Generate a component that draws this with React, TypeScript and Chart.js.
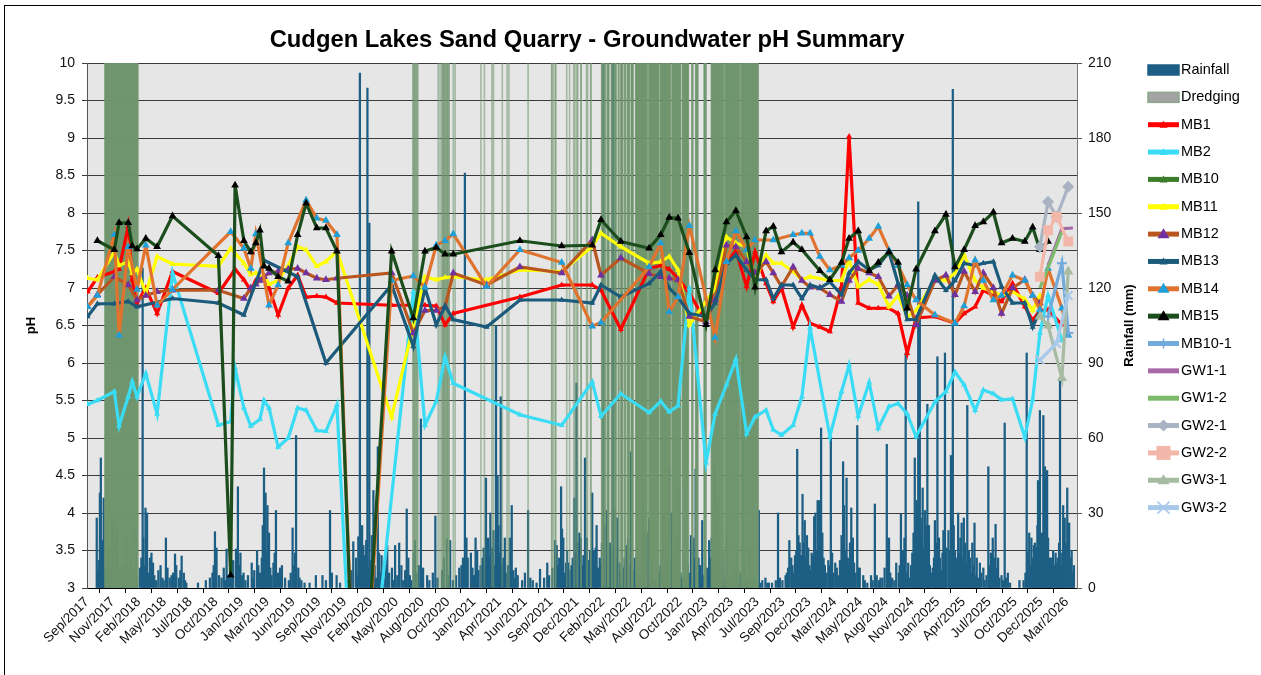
import { useEffect, useRef } from 'react';
import { Chart, registerables } from 'chart.js';
Chart.register(...registerables);

// ---------- DATA ----------
const chartTitle = 'Cudgen Lakes Sand Quarry - Groundwater pH Summary';
const xTickStart = '2017-09-01';
const xTickStepDays = 82;
const xAxisEnd = '2026-04-16';
const monthNames = ['Jan', 'Feb', 'Mar', 'Apr', 'May', 'Jun', 'Jul', 'Aug', 'Sep', 'Oct', 'Nov', 'Dec'];

const mbDates = [
  '2017-09-03', '2017-10-04', '2017-11-27', '2017-12-12', '2018-01-10', '2018-01-23', '2018-02-07', '2018-03-07', '2018-04-12', '2018-05-31',
  '2018-10-24', '2018-12-02', '2018-12-16', '2019-01-13', '2019-02-04', '2019-02-20', '2019-03-05', '2019-03-18', '2019-04-03', '2019-05-02',
  '2019-06-03', '2019-07-03', '2019-07-30', '2019-09-02', '2019-10-01', '2019-11-05', '2020-01-11', '2020-04-27', '2020-07-05', '2020-08-11',
  '2020-09-16', '2020-10-14', '2020-11-09', '2021-02-23', '2021-06-09', '2021-10-20', '2022-01-25', '2022-02-22', '2022-04-26', '2022-07-25',
  '2022-08-31', '2022-09-27', '2022-10-25', '2022-11-30', '2023-01-22', '2023-02-20', '2023-03-28', '2023-04-27', '2023-05-31', '2023-06-27',
  '2023-08-01', '2023-08-24', '2023-09-19', '2023-10-26', '2023-11-23', '2023-12-19', '2024-01-19', '2024-02-20', '2024-03-28', '2024-04-21',
  '2024-05-20', '2024-06-24', '2024-07-23', '2024-08-26', '2024-09-24', '2024-10-23', '2024-11-20', '2025-01-19', '2025-02-23', '2025-03-24',
  '2025-04-22', '2025-05-27', '2025-06-22', '2025-07-24', '2025-08-19', '2025-09-23', '2025-11-01', '2025-11-26', '2025-12-19', '2026-01-14',
  '2026-02-10', '2026-02-27', '2026-03-19', '2026-04-03',
];

const mb1 = [
  6.95, 7.14, 7.22, 7.25, 7.82, 7.11, 6.80, 7.0, 6.66, 7.22,
  6.93, null, 7.25, 7.11, 6.97, 7.1, null, 7.15, 7.0, 6.64,
  7.0, 7.17, 6.88, 6.89, 6.88, 6.80, null, 6.77, 6.77, 6.77,
  6.76, 6.51, 6.66, null, 6.88, 7.04, 7.04, 6.97, 6.45, 7.26,
  7.3, 7.25, 7.13, 6.93, 6.55, 7.1, 7.33, 7.5, 7.02, 7.48,
  7.06, 6.82, 7.0, 6.48, 6.77, 6.53, 6.48, 6.42, 7.02, 9.02,
  6.80, 6.73, 6.73, 6.73, 6.66, 6.13, 6.60, 6.62, null, 6.53,
  6.66, 6.75, 6.97, 6.9, 6.82, 7.06, 6.75, 6.57, 6.7, 6.71,
  null, 6.51, null, null,
];
const mb2 = [
  5.45, 5.50, 5.62, 5.16, 5.55, 5.75, 5.55, 5.86, 5.32, 7.20,
  5.17, 5.22, 5.93, 5.40, 5.16, null, 5.25, 5.50, 5.40, 4.88,
  5.0, 5.40, 5.37, 5.10, 5.09, 5.44, 0, null, 6.95, 5.17,
  5.49, 6.08, 5.73, null, 5.31, 5.17, 5.75, 5.29, 5.59, 5.34,
  5.49, 5.35, 5.43, 7.0, 4.67, 5.32, 5.71, 6.05, 5.06, 5.28,
  5.37, 5.11, 5.04, 5.17, 5.55, 6.47, null, 5.02, 5.62, 5.97,
  5.29, 5.74, 5.13, 5.42, 5.46, 5.32, 5.02, 5.48, 5.62, 5.88,
  5.71, 5.37, 5.64, 5.59, 5.51, 5.52, 5.01, 5.51, 6.4, 6.9,
  null, 6.3, null, null,
];
const mb10: (number | null)[] = [];
const mb11 = [
  7.13, 7.11, 7.48, 7.3, 7.35, 7.2, 7.25, 6.93, 7.42, 7.32,
  7.29, 7.53, null, 7.33, 7.18, 7.2, 7.15, 7.15, 7.05, 7.1,
  7.3, 7.55, 7.51, 7.29, 7.35, 7.49, null, 5.28, 6.5, 7.15,
  7.11, 7.14, 7.15, 7.11, 7.24, 7.22, 7.55, 7.73, 7.55, 7.33,
  7.35, 7.42, 7.24, 6.51, 6.82, 7.0, 7.68, 7.6, 7.55, 7.11,
  7.44, 7.33, 7.33, 7.22, 7.11, 7.15, null, 7.1, 7.1, 7.37,
  7.02, 7.11, 7.05, 6.75, 6.9, 6.62, 6.7, 7.11, 7.1, 7.2,
  7.44, 7.1, 7.0, 6.95, 6.9, 6.95, 6.85, 6.7, 6.9, null,
  null, null, null, null,
];
const mb12 = [
  6.75, 6.91, 7.15, null, 7.04, null, 6.84, 6.9, 6.95, 6.97,
  6.97, null, null, 6.86, 7.0, 7.05, 7.1, 7.15, 7.2, 7.22,
  7.25, 7.26, 7.2, 7.13, 7.11, 7.13, null, 7.20, 6.40, 6.70,
  6.70, 6.75, 7.20, 7.04, 7.28, 7.20, 7.64, 7.17, 7.40, 7.19,
  7.15, 7.13, 7.11, 6.62, 6.55, 6.84, 7.57, 7.55, 7.35, 7.2,
  7.35, 7.2, 7.02, 7.28, 7.1, 7.01, 7.0, 6.91, 6.82, 7.1,
  7.26, 7.2, 7.15, 6.89, 7.04, 6.9, 6.51, 7.1, 7.17, 6.91,
  7.22, 6.95, 7.2, 7.0, 6.66, 7.0, 7.11, 6.9, 6.8, null,
  null, null, null, null,
];
const mb13 = [
  6.62, 6.79, 6.79, null, 6.82, null, 6.75, null, null, 6.86,
  6.80, null, null, 6.64, null, null, null, 7.37, null, null,
  null, 7.15, null, null, 6.0, null, null, 7.04, 6.22, 7.0,
  6.51, 6.76, 6.58, 6.48, 6.84, 6.84, 6.80, 7.04, 6.88, 7.06,
  7.22, 7.0, 6.88, 6.66, 6.62, 6.8, 7.33, 7.44, 7.24, 7.11,
  7.11, 6.86, 7.04, 7.04, 6.86, 7.04, 7.0, 7.08, 6.91, 7.2,
  7.35, 7.24, 7.3, 7.48, 7.06, 6.58, 6.58, 7.17, 6.97, 7.1,
  7.33, 7.3, 7.33, 7.35, 7.02, 6.8, 6.8, 6.48, 6.7, null,
  null, null, null, null,
];
const mb14 = [
  6.75, 6.9, 7.71, 6.37, 7.55, null, 6.98, 7.57, 6.77, 6.98,
  null, 7.75, null, 7.53, 7.26, 7.72, null, null, 6.77, 7.04,
  7.60, null, 8.17, 7.93, 7.90, 7.71, 0, 7.1, 7.16, 7.01,
  7.57, 7.63, 7.72, 7.02, 7.51, 7.34, 6.49, 6.54, null, 7.28,
  7.60, 6.68, 6.88, 7.83, null, 6.34, 7.35, 7.76, 7.51, 7.64,
  null, 7.64, null, 7.71, 7.73, 7.73, 7.42, 7.24, 7.3, 7.4,
  7.5, 7.66, 7.82, 7.5, 7.3, 7.04, 6.84, 6.64, null, 6.53,
  6.76, 7.37, 7.1, 6.84, 6.9, 7.17, 7.1, 6.9, 6.71, 7.26,
  null, 6.73, 6.37, null,
];
const mb15 = [
  null, 7.63, 7.51, 7.87, 7.87, 7.56, 7.52, 7.66, 7.55, 7.96,
  7.43, 3.17, 8.37, 7.63, 7.48, 7.60, 7.77, 7.29, 7.26, 7.15,
  7.09, 7.71, 8.13, 7.80, 7.80, 7.49, 0, 7.49, 6.60, 7.49,
  7.54, 7.45, 7.45, null, 7.63, 7.56, 7.57, 7.91, 7.62, 7.53,
  7.71, 7.94, 7.93, 7.47, 6.51, 7.24, 7.88, 8.03, 7.68, 7.01,
  7.76, 7.82, 7.48, 7.61, 7.51, null, 7.23, 7.11, 7.34, 7.66,
  7.76, 7.23, 7.34, 7.48, 7.34, 6.73, 7.25, 7.76, 7.98, 7.28,
  7.51, 7.83, 7.88, 8.01, 7.60, 7.66, 7.62, 7.81, 7.51, 7.62,
  null, null, null, null,
];

const gwDates = ['2025-12-19', '2026-01-14', '2026-02-10', '2026-02-27', '2026-03-19', '2026-04-03'];
const mb10_1 = [null, 6.62, null, 7.33, 6.4, null];
const gw1_1 = [null, 7.3, null, 7.79, null, 7.8];
const gw1_2 = [7.0, 7.27, null, 7.75, null, null];
const gw2_1 = [7.55, 8.15, 7.95, null, 8.35, null];
const gw2_2 = [7.15, 7.77, 7.95, null, 7.62, null];
const gw3_1 = [6.62, 6.5, null, 5.8, 7.22, null];
const gw3_2 = [6.04, null, 6.26, null, 6.9, null];

// larger daily rainfall events (mm)
const rainDates = [
  '2017-10-02', '2017-10-12', '2017-10-15', '2017-10-19', '2017-10-24', '2017-10-29', '2017-11-08', '2017-11-11', '2017-11-19', '2017-11-24',
  '2017-11-30', '2017-12-05', '2017-12-13', '2017-12-25', '2018-01-02', '2018-01-24', '2018-02-03', '2018-02-16', '2018-02-25', '2018-02-27',
  '2018-03-06', '2018-03-11', '2018-03-20', '2018-03-30', '2018-04-23', '2018-05-10', '2018-05-28', '2018-06-08', '2018-06-29', '2018-07-06',
  '2018-09-27', '2018-10-13', '2018-10-18', '2018-11-19', '2018-11-24', '2018-12-19', '2018-12-25', '2019-01-07', '2019-02-07', '2019-02-24',
  '2019-03-18', '2019-03-23', '2019-03-29', '2019-04-03', '2019-04-25', '2019-05-08', '2019-06-17', '2019-06-28', '2019-07-05', '2019-08-30',
  '2019-09-20', '2019-10-14', '2019-11-04', '2019-12-27', '2020-01-12', '2020-01-17', '2020-01-28', '2020-02-02', '2020-02-10', '2020-02-16',
  '2020-02-29', '2020-03-14', '2020-03-26', '2020-04-13', '2020-04-28', '2020-05-08', '2020-05-21', '2020-06-14', '2020-06-19', '2020-07-10',
  '2020-07-29', '2020-09-13', '2020-10-20', '2020-10-30', '2020-12-16', '2020-12-25', '2021-01-04', '2021-01-19', '2021-01-24', '2021-02-21',
  '2021-02-28', '2021-03-07', '2021-03-17', '2021-03-25', '2021-03-30', '2021-04-09', '2021-04-22', '2021-05-08', '2021-05-14', '2021-05-27',
  '2021-07-05', '2021-08-12', '2021-09-04', '2021-09-29', '2021-10-04', '2021-10-18', '2021-10-21', '2021-10-25', '2021-11-10', '2021-11-29',
  '2021-12-06', '2021-12-15', '2021-12-20', '2022-01-02', '2022-01-08', '2022-01-18', '2022-01-25', '2022-01-30', '2022-02-08', '2022-02-18',
  '2022-03-01', '2022-03-12', '2022-03-22', '2022-03-31', '2022-04-07', '2022-04-15', '2022-04-21', '2022-05-14', '2022-05-19', '2022-05-28',
  '2022-07-06', '2022-07-12', '2022-07-19', '2022-07-25', '2022-08-01', '2022-09-08', '2022-09-16', '2022-09-27', '2022-10-04', '2022-10-11',
  '2022-10-20', '2022-10-28', '2022-11-13', '2022-12-05', '2022-12-13', '2022-12-20', '2022-12-29', '2023-01-10', '2023-01-25', '2023-02-01',
  '2023-02-09', '2023-02-19', '2023-03-02', '2023-03-08', '2023-03-18', '2023-03-29', '2023-04-29', '2023-05-18', '2023-05-25', '2023-06-11',
  '2023-07-09', '2023-07-20', '2023-07-30', '2023-08-05', '2023-09-08', '2023-09-22', '2023-10-02', '2023-10-14', '2023-11-01', '2023-11-08',
  '2023-11-16', '2023-11-25', '2023-12-02', '2023-12-09', '2023-12-28', '2024-01-01', '2024-01-05', '2024-01-12', '2024-01-17', '2024-01-23',
  '2024-02-15', '2024-02-23', '2024-03-08', '2024-03-28', '2024-04-02', '2024-04-05', '2024-04-13', '2024-04-28', '2024-05-03', '2024-05-17',
  '2024-05-25', '2024-06-05', '2024-06-30', '2024-07-12', '2024-07-30', '2024-08-19', '2024-08-26', '2024-09-18', '2024-10-03', '2024-10-10',
  '2024-10-18', '2024-10-26', '2024-11-16', '2024-11-22', '2024-11-27', '2024-12-02', '2024-12-11', '2024-12-18', '2024-12-26', '2024-12-31',
  '2025-01-19', '2025-01-27', '2025-02-01', '2025-02-15', '2025-02-20', '2025-03-03', '2025-03-11', '2025-03-17', '2025-03-24', '2025-04-03',
  '2025-04-14', '2025-04-21', '2025-05-02', '2025-05-07', '2025-05-18', '2025-05-25', '2025-06-01', '2025-06-11', '2025-06-22', '2025-07-08',
  '2025-07-22', '2025-07-31', '2025-08-08', '2025-08-19', '2025-08-29', '2025-09-08', '2025-10-15', '2025-11-07', '2025-11-15', '2025-11-22',
  '2025-11-30', '2025-12-08', '2025-12-13', '2025-12-19', '2025-12-30', '2026-01-04', '2026-01-11', '2026-01-20', '2026-01-30', '2026-02-10',
  '2026-02-21', '2026-03-03', '2026-03-08', '2026-03-16', '2026-03-22', '2026-03-30',
];
const rainMm = [
  28, 38, 52, 19, 36, 8, 16, 10, 28, 24.5,
  20, 24, 8, 6, 21, 6, 23.6, 8, 128, 20,
  32, 30, 12, 10, 9, 20, 5, 13.6, 12.8, 6,
  4, 22.5, 16, 15.6, 5, 15.6, 40.5, 5, 10, 15,
  48, 38, 33, 22, 31, 8, 24, 61, 8, 5,
  5, 31, 5, 18.5, 20.5, 206, 17, 13, 200, 146,
  39, 56.5, 13, 17, 8, 17, 18, 31.6, 12, 19,
  67.6, 28.8, 19.6, 19, 166, 12, 14, 20, 15, 44,
  20, 30, 23, 105, 45, 76.5, 20, 20, 33, 8,
  31, 7.5, 10, 19, 17, 40.5, 23.6, 20, 10, 36,
  82, 22, 20, 52, 20, 15, 38, 15, 25, 12,
  215, 31, 18, 215, 31, 28, 10, 17, 20, 54.5,
  34, 23, 22, 28, 12, 29.6, 20, 48, 30, 14,
  20, 41, 14, 21, 20, 47.6, 12, 27, 8, 19,
  20, 48.5, 36, 15, 14, 22, 14, 117, 10, 15,
  31, 3, 4, 2, 30, 3, 5, 19, 13, 55.5,
  18, 37.5, 27, 21, 13, 28.5, 30, 35, 35, 64,
  11, 60, 10, 21, 50.5, 33, 44, 32, 20, 65,
  8, 5, 5, 33.6, 4, 57.5, 20, 10, 29.6, 15,
  94, 10, 52, 35, 154.5, 120, 40, 31, 73.5, 25,
  27, 92.5, 20, 23, 94, 23, 53, 199.5, 15, 30,
  26, 28, 73, 15, 18, 26, 12, 10, 8, 48.5,
  20, 25.5, 12, 5, 66, 6, 3, 94, 22, 20,
  17, 16, 43, 71, 69, 48.5, 47, 12, 15, 10,
  84, 33, 28, 40, 26, 15,
];

// smaller daily rainfall totals (mm) forming the low "carpet" of bars
const rainSmallDates = [
  '2017-10-06', '2017-10-09', '2017-10-22', '2017-11-02', '2017-11-05', '2017-11-15', '2017-12-01', '2017-12-08', '2017-12-18', '2017-12-21',
  '2017-12-29', '2018-01-06', '2018-01-14', '2018-01-18', '2018-01-29', '2018-02-07', '2018-02-21', '2018-03-02', '2018-03-15', '2018-03-25',
  '2018-04-03', '2018-04-09', '2018-04-16', '2018-04-29', '2018-05-03', '2018-05-15', '2018-05-22', '2018-06-02', '2018-06-12', '2018-06-20',
  '2018-06-25', '2018-07-10', '2018-07-14', '2018-08-20', '2018-09-14', '2018-10-05', '2018-10-09', '2018-10-26', '2018-11-03', '2018-11-10',
  '2018-11-14', '2018-11-30', '2018-12-06', '2018-12-10', '2018-12-29', '2019-01-02', '2019-01-12', '2019-01-18', '2019-01-26', '2019-02-12',
  '2019-02-15', '2019-02-28', '2019-03-05', '2019-03-11', '2019-03-14', '2019-03-26', '2019-04-07', '2019-04-11', '2019-04-17', '2019-04-21',
  '2019-05-02', '2019-05-14', '2019-05-24', '2019-06-05', '2019-06-11', '2019-06-22', '2019-06-25', '2019-07-09', '2019-07-15', '2019-07-25',
  '2019-08-10', '2019-10-01', '2019-10-20', '2019-11-15', '2019-12-10', '2019-12-20', '2020-01-05', '2020-01-09', '2020-01-21', '2020-01-24',
  '2020-02-06', '2020-02-13', '2020-02-20', '2020-02-24', '2020-03-04', '2020-03-08', '2020-03-18', '2020-03-22', '2020-04-02', '2020-04-08',
  '2020-04-19', '2020-05-02', '2020-05-15', '2020-05-28', '2020-06-03', '2020-06-09', '2020-06-24', '2020-06-29', '2020-07-06', '2020-07-15',
  '2020-07-22', '2020-08-05', '2020-08-18', '2020-08-25', '2020-09-05', '2020-09-20', '2020-10-05', '2020-10-10', '2020-10-24', '2020-11-08',
  '2020-11-18', '2020-11-28', '2020-12-05', '2020-12-10', '2020-12-21', '2021-01-09', '2021-01-14', '2021-01-28', '2021-02-04', '2021-02-10',
  '2021-02-14', '2021-02-17', '2021-03-03', '2021-03-10', '2021-03-13', '2021-03-20', '2021-04-02', '2021-04-05', '2021-04-13', '2021-04-17',
  '2021-04-26', '2021-05-02', '2021-05-19', '2021-05-22', '2021-06-02', '2021-06-16', '2021-06-25', '2021-07-12', '2021-07-20', '2021-08-01',
  '2021-08-25', '2021-09-10', '2021-09-20', '2021-10-08', '2021-10-12', '2021-10-28', '2021-11-03', '2021-11-06', '2021-11-14', '2021-11-20',
  '2021-11-24', '2021-12-02', '2021-12-10', '2021-12-24', '2021-12-28', '2022-01-05', '2022-01-12', '2022-01-22', '2022-02-02', '2022-02-05',
  '2022-02-12', '2022-02-22', '2022-02-25', '2022-03-05', '2022-03-08', '2022-03-16', '2022-03-19', '2022-03-26', '2022-04-03', '2022-04-11',
  '2022-04-25', '2022-04-29', '2022-05-03', '2022-05-08', '2022-05-25', '2022-06-03', '2022-06-09', '2022-06-14', '2022-06-20', '2022-06-27',
  '2022-07-01', '2022-07-15', '2022-07-30', '2022-08-05', '2022-08-12', '2022-08-25', '2022-08-30', '2022-09-03', '2022-09-12', '2022-09-22',
  '2022-09-30', '2022-10-08', '2022-10-15', '2022-10-24', '2022-11-02', '2022-11-06', '2022-11-19', '2022-11-25', '2022-11-30', '2022-12-09',
  '2022-12-16', '2022-12-24', '2023-01-03', '2023-01-06', '2023-01-16', '2023-01-29', '2023-02-05', '2023-02-13', '2023-02-16', '2023-02-23',
  '2023-02-27', '2023-03-05', '2023-03-12', '2023-03-22', '2023-04-03', '2023-04-08', '2023-04-20', '2023-05-05', '2023-05-11', '2023-05-30',
  '2023-06-04', '2023-06-18', '2023-06-25', '2023-07-14', '2023-08-10', '2023-08-20', '2023-09-01', '2023-09-14', '2023-10-06', '2023-10-10',
  '2023-10-20', '2023-10-24', '2023-10-28', '2023-11-05', '2023-11-12', '2023-11-20', '2023-11-28', '2023-12-05', '2023-12-13', '2023-12-17',
  '2023-12-21', '2023-12-24', '2024-01-08', '2024-01-14', '2024-01-20', '2024-01-27', '2024-01-31', '2024-02-04', '2024-02-09', '2024-02-19',
  '2024-02-27', '2024-03-02', '2024-03-13', '2024-03-18', '2024-03-23', '2024-04-09', '2024-04-17', '2024-04-21', '2024-04-24', '2024-05-07',
  '2024-05-11', '2024-05-21', '2024-06-10', '2024-06-18', '2024-07-05', '2024-07-18', '2024-07-25', '2024-08-05', '2024-08-12', '2024-08-22',
  '2024-08-30', '2024-09-05', '2024-09-12', '2024-09-26', '2024-09-29', '2024-10-07', '2024-10-14', '2024-10-22', '2024-10-30', '2024-11-04',
  '2024-11-08', '2024-11-12', '2024-11-19', '2024-11-25', '2024-11-30', '2024-12-05', '2024-12-08', '2024-12-14', '2024-12-22', '2024-12-29',
  '2025-01-03', '2025-01-07', '2025-01-12', '2025-01-16', '2025-01-23', '2025-01-30', '2025-02-04', '2025-02-08', '2025-02-12', '2025-02-18',
  '2025-02-25', '2025-03-07', '2025-03-14', '2025-03-20', '2025-03-28', '2025-04-01', '2025-04-07', '2025-04-10', '2025-04-18', '2025-04-25',
  '2025-04-29', '2025-05-05', '2025-05-11', '2025-05-14', '2025-05-21', '2025-05-29', '2025-06-05', '2025-06-15', '2025-06-26', '2025-07-02',
  '2025-07-12', '2025-07-16', '2025-07-19', '2025-07-26', '2025-08-02', '2025-08-12', '2025-08-24', '2025-09-02', '2025-09-15', '2025-10-28',
  '2025-11-03', '2025-11-10', '2025-11-18', '2025-11-26', '2025-12-03', '2025-12-11', '2025-12-16', '2025-12-23', '2025-12-26', '2026-01-01',
  '2026-01-07', '2026-01-14', '2026-01-17', '2026-01-24', '2026-01-27', '2026-02-03', '2026-02-07', '2026-02-14', '2026-02-18', '2026-02-25',
  '2026-02-28', '2026-03-05', '2026-03-11', '2026-03-19', '2026-03-26', '2026-04-02', '2026-04-06',
];
const rainSmallMm = [
  6, 11, 14, 5, 9, 7, 12, 6, 4, 9,
  5, 9, 5, 12, 7, 4, 12, 9, 6, 14,
  5, 3, 7, 4, 3, 8, 4, 6, 9, 4,
  7, 3, 2, 2, 3, 6, 9, 5, 4, 8,
  3, 7, 4, 11, 9, 14, 6, 3, 5, 4,
  7, 9, 6, 12, 25, 14, 8, 5, 10, 14,
  6, 9, 4, 3, 6, 9, 14, 4, 3, 2,
  2, 3, 6, 2, 3, 7, 12, 5, 9, 25,
  19, 8, 11, 21, 9, 4, 14, 6, 4, 9,
  6, 3, 5, 9, 3, 7, 5, 3, 14, 6,
  9, 8, 5, 3, 6, 4, 7, 12, 5, 3,
  5, 8, 9, 12, 20, 8, 5, 7, 9, 12,
  16, 8, 13, 10, 16, 9, 25, 14, 9, 12,
  6, 9, 7, 4, 5, 3, 6, 4, 3, 2,
  4, 5, 8, 9, 12, 6, 10, 15, 7, 9,
  12, 14, 18, 9, 13, 9, 11, 13, 10, 16,
  8, 9, 18, 12, 25, 13, 9, 14, 16, 12,
  6, 9, 8, 12, 9, 7, 12, 6, 4, 5,
  9, 8, 6, 4, 3, 6, 9, 14, 8, 11,
  9, 13, 9, 8, 6, 4, 5, 9, 6, 8,
  12, 6, 9, 4, 5, 6, 12, 9, 14, 11,
  18, 9, 6, 4, 3, 6, 9, 4, 6, 3,
  2, 3, 4, 2, 2, 2, 3, 4, 6, 8,
  12, 9, 6, 15, 21, 13, 18, 12, 16, 9,
  7, 14, 15, 20, 10, 22, 12, 9, 6, 9,
  14, 6, 8, 5, 11, 15, 12, 9, 18, 10,
  6, 8, 3, 2, 3, 5, 3, 4, 8, 14,
  6, 4, 3, 6, 9, 12, 20, 6, 4, 9,
  14, 22, 25, 30, 18, 28, 20, 16, 25, 14,
  9, 6, 8, 12, 18, 9, 12, 7, 14, 10,
  16, 15, 20, 25, 12, 9, 14, 20, 12, 18,
  10, 8, 12, 6, 9, 5, 4, 6, 3, 5,
  9, 14, 6, 12, 8, 4, 3, 4, 2, 3,
  6, 14, 9, 12, 18, 25, 20, 15, 22, 18,
  14, 20, 9, 12, 6, 9, 14, 12, 18, 9,
  14, 12, 18, 22, 12, 6, 9,
];

// dredging days: [first day, last day] of each dredging run
const dredgingPeriods: [string, string][] = [
  ['2017-10-28', '2018-02-10'],
  ['2020-07-04', '2020-07-05'], ['2020-07-08', '2020-07-09'], ['2020-07-13', '2020-07-14'], ['2020-07-18', '2020-07-19'],
  ['2020-09-22', '2020-09-22'], ['2020-09-28', '2020-09-28'],
  ['2020-10-04', '2020-10-05'], ['2020-10-09', '2020-10-11'], ['2020-10-15', '2020-10-16'], ['2020-10-20', '2020-10-22'], ['2020-10-26', '2020-10-27'],
  ['2020-11-09', '2020-11-09'], ['2020-11-15', '2020-11-15'],
  ['2021-02-05', '2021-02-05'], ['2021-02-16', '2021-02-16'], ['2021-03-12', '2021-03-12'], ['2021-03-17', '2021-03-17'],
  ['2021-04-14', '2021-04-14'], ['2021-04-29', '2021-04-29'], ['2021-05-05', '2021-05-05'], ['2021-07-05', '2021-07-05'],
  ['2021-09-18', '2021-09-19'], ['2021-09-24', '2021-09-24'], ['2021-09-30', '2021-10-01'],
  ['2021-11-05', '2021-11-05'], ['2021-11-14', '2021-11-14'], ['2021-11-27', '2021-11-27'], ['2021-12-01', '2021-12-01'],
  ['2021-12-07', '2021-12-07'], ['2021-12-10', '2021-12-10'], ['2021-12-20', '2021-12-21'], ['2022-01-07', '2022-01-07'],
  ['2022-01-10', '2022-01-10'], ['2022-01-20', '2022-01-21'],
  ['2022-02-24', '2022-03-01'], ['2022-03-06', '2022-03-08'], ['2022-03-14', '2022-03-19'], ['2022-03-27', '2022-03-30'],
  ['2022-04-05', '2022-04-11'], ['2022-04-18', '2022-04-20'], ['2022-04-26', '2022-05-02'], ['2022-05-08', '2022-05-11'],
  ['2022-05-17', '2022-05-23'], ['2022-05-29', '2022-06-04'],
  ['2022-06-12', '2022-07-19'], ['2022-07-24', '2022-08-25'], ['2022-08-30', '2022-10-01'], ['2022-10-06', '2022-11-02'],
  ['2022-11-08', '2022-11-27'], ['2022-12-08', '2022-12-11'], ['2022-12-20', '2022-12-27'], ['2023-01-16', '2023-01-22'],
  ['2023-02-08', '2023-03-19'], ['2023-03-23', '2023-05-09'], ['2023-05-13', '2023-07-07'],
];
const dredgingLevel = 210;

// ---------- HELPERS ----------
const DAY = 86400000;
const toDay = (s: string) => Date.UTC(+s.slice(0, 4), +s.slice(5, 7) - 1, +s.slice(8, 10)) / DAY;
const fmtDay = (d: number) => {
  const dt = new Date(Math.round(d) * DAY);
  return monthNames[dt.getUTCMonth()] + '/' + dt.getUTCFullYear();
};
const FONT = "'Liberation Sans', Arial, Helvetica, sans-serif";

type Series = {
  label: string; dates: string[]; values: (number | null)[]; color: string; marker: string;
  style: string | false; radius: number; legendRadius: number;
};
const series: Series[] = [
  { label: 'MB1', dates: mbDates, values: mb1, color: '#ff0000', marker: '#ff0000', style: 'triangle', radius: 3.5, legendRadius: 4 },
  { label: 'MB2', dates: mbDates, values: mb2, color: '#3adcf5', marker: '#3adcf5', style: 'triangle', radius: 3.5, legendRadius: 4 },
  { label: 'MB10', dates: mbDates, values: mb10, color: '#3b7d2a', marker: '#3b7d2a', style: 'triangle', radius: 3.5, legendRadius: 4 },
  { label: 'MB11', dates: mbDates, values: mb11, color: '#ffff00', marker: '#ffff00', style: 'triangle', radius: 3.5, legendRadius: 4 },
  { label: 'MB12', dates: mbDates, values: mb12, color: '#b9561f', marker: '#7030a0', style: 'triangle', radius: 4.5, legendRadius: 6 },
  { label: 'MB13', dates: mbDates, values: mb13, color: '#1b5a7a', marker: '#1b5a7a', style: 'triangle', radius: 3.5, legendRadius: 4 },
  { label: 'MB14', dates: mbDates, values: mb14, color: '#e0742f', marker: '#1e9fd9', style: 'triangle', radius: 4.5, legendRadius: 6 },
  { label: 'MB15', dates: mbDates, values: mb15, color: '#1c4d1c', marker: '#000000', style: 'triangle', radius: 4.5, legendRadius: 6 },
  { label: 'MB10-1', dates: gwDates, values: mb10_1, color: '#72aadc', marker: '#72aadc', style: 'cross', radius: 5, legendRadius: 5 },
  { label: 'GW1-1', dates: gwDates, values: gw1_1, color: '#a66aa8', marker: '#a66aa8', style: false, radius: 0, legendRadius: 0 },
  { label: 'GW1-2', dates: gwDates, values: gw1_2, color: '#7dbb6c', marker: '#7dbb6c', style: false, radius: 0, legendRadius: 0 },
  { label: 'GW2-1', dates: gwDates, values: gw2_1, color: '#a9b3c3', marker: '#a9b3c3', style: 'rectRot', radius: 6, legendRadius: 6 },
  { label: 'GW2-2', dates: gwDates, values: gw2_2, color: '#f3b7a9', marker: '#f3b7a9', style: 'rect', radius: 7, legendRadius: 7 },
  { label: 'GW3-1', dates: gwDates, values: gw3_1, color: '#a7bba3', marker: '#a7bba3', style: 'triangle', radius: 6, legendRadius: 6 },
  { label: 'GW3-2', dates: gwDates, values: gw3_2, color: '#a8c9ea', marker: '#a8c9ea', style: 'crossRot', radius: 6, legendRadius: 6 },
];
const rainColor = '#1d5f84';
const dredgeColor = 'rgba(112,150,110,0.55)';

function drawMarker(ctx: CanvasRenderingContext2D, style: string | false, x: number, y: number, r: number, color: string) {
  if (!style || r <= 0) return;
  ctx.save();
  ctx.fillStyle = color;
  ctx.strokeStyle = color;
  ctx.lineWidth = 1.5;
  ctx.beginPath();
  if (style === 'triangle') {
    const h = r * 1.5;
    ctx.moveTo(x, y - h * 0.66);
    ctx.lineTo(x + r, y + h * 0.34 + 1);
    ctx.lineTo(x - r, y + h * 0.34 + 1);
    ctx.closePath();
    ctx.fill();
  } else if (style === 'rect') {
    ctx.fillRect(x - r, y - r, 2 * r, 2 * r);
  } else if (style === 'rectRot') {
    ctx.moveTo(x, y - r); ctx.lineTo(x + r, y); ctx.lineTo(x, y + r); ctx.lineTo(x - r, y); ctx.closePath(); ctx.fill();
  } else if (style === 'cross') {
    ctx.moveTo(x - r, y); ctx.lineTo(x + r, y); ctx.moveTo(x, y - r); ctx.lineTo(x, y + r); ctx.stroke();
  } else if (style === 'crossRot') {
    ctx.moveTo(x - r, y - r); ctx.lineTo(x + r, y + r); ctx.moveTo(x + r, y - r); ctx.lineTo(x - r, y + r); ctx.stroke();
  }
  ctx.restore();
}

const bgPlugin = {
  id: 'plotBg',
  beforeDraw(chart: any) {
    const { ctx, chartArea: a } = chart;
    ctx.save();
    ctx.fillStyle = '#e6e6e6';
    ctx.fillRect(a.left, a.top, a.right - a.left, a.bottom - a.top);
    ctx.restore();
  },
};

const overlayPlugin = {
  id: 'overlay',
  afterDraw(chart: any) {
    const { ctx, chartArea: a } = chart;
    ctx.save();
    ctx.fillStyle = '#000';
    ctx.textAlign = 'center';
    ctx.textBaseline = 'middle';
    ctx.font = `bold 23.8px ${FONT}`;
    ctx.fillText(chartTitle, 587, 40);
    ctx.font = `bold 13px ${FONT}`;
    ctx.save();
    ctx.translate(31, (a.top + a.bottom) / 2);
    ctx.rotate(-Math.PI / 2);
    ctx.fillText('pH', 0, 0);
    ctx.restore();
    ctx.save();
    ctx.translate(1129, (a.top + a.bottom) / 2);
    ctx.rotate(-Math.PI / 2);
    ctx.fillText('Rainfall (mm)', 0, 0);
    ctx.restore();

    // legend
    const x0 = 1148, x1 = 1179, tx = 1181;
    const items: any[] = [
      { label: 'Rainfall', kind: 'box', fill: rainColor, stroke: rainColor },
      { label: 'Dredging', kind: 'box', fill: '#a3a3a3', stroke: '#8aa888' },
      ...series.map((s) => ({ label: s.label, kind: 'line', s })),
    ];
    items.forEach((it, i) => {
      const y = 70 + i * 27.35;
      if (it.kind === 'box') {
        ctx.fillStyle = it.fill;
        ctx.fillRect(x0, y - 5, x1 - x0, 10);
        ctx.strokeStyle = it.stroke;
        ctx.lineWidth = 1.5;
        ctx.strokeRect(x0, y - 5, x1 - x0, 10);
      } else {
        const s: Series = it.s;
        ctx.strokeStyle = s.color;
        ctx.lineWidth = 5;
        ctx.beginPath();
        ctx.moveTo(x0, y);
        ctx.lineTo(x1, y);
        ctx.stroke();
        drawMarker(ctx, s.style, (x0 + x1) / 2, y, s.legendRadius, s.marker);
      }
      ctx.fillStyle = '#000';
      ctx.textAlign = 'left';
      ctx.textBaseline = 'middle';
      ctx.font = `14.5px ${FONT}`;
      ctx.fillText(it.label, tx, y);
    });
    ctx.restore();
  },
};

export default function App() {
  const ref = useRef<HTMLCanvasElement>(null);
  useEffect(() => {
    document.body.style.margin = '0';
    const xMin = toDay(xTickStart);
    const xMax = toDay(xAxisEnd);
    const tickValues: number[] = [];
    for (let v = xMin; v <= xMax; v += xTickStepDays) tickValues.push(v);

    const rainData = [
      ...rainDates.map((d, i) => ({ x: toDay(d), y: rainMm[i] })),
      ...rainSmallDates.map((d, i) => ({ x: toDay(d), y: rainSmallMm[i] })),
    ].sort((p, q) => p.x - q.x);
    const dredgeData: { x: number; y: number }[] = [];
    dredgingPeriods.forEach(([s, e]) => {
      for (let d = toDay(s); d <= toDay(e); d++) dredgeData.push({ x: d, y: dredgingLevel });
    });

    const n = series.length;
    const lineSets = series.map((s, i) => {
      const pts: { x: number; y: number }[] = [];
      s.values.forEach((v, j) => {
        if (v !== null && v !== undefined) pts.push({ x: toDay(s.dates[j]), y: v });
      });
      return {
        type: 'line' as const,
        label: s.label,
        data: pts,
        xAxisID: 'x',
        yAxisID: 'y',
        borderColor: s.color,
        backgroundColor: s.marker,
        pointBackgroundColor: s.marker,
        pointBorderColor: s.marker,
        pointBorderWidth: s.style === 'cross' || s.style === 'crossRot' ? 2 : 0,
        pointStyle: s.style === false ? 'circle' : s.style,
        pointRadius: s.radius,
        borderWidth: 3.2,
        tension: 0,
        spanGaps: true,
        order: n - i,
      };
    });

    const chart = new Chart(ref.current as HTMLCanvasElement, {
      type: 'line',
      data: {
        datasets: [
          {
            type: 'bar' as const, label: 'Rainfall', data: rainData as any, xAxisID: 'x', yAxisID: 'y1',
            backgroundColor: rainColor, borderWidth: 0, barThickness: 1.6, grouped: false, order: 200, clip: 0 as any,
          },
          {
            type: 'bar' as const, label: 'Dredging', data: dredgeData as any, xAxisID: 'x', yAxisID: 'y1',
            backgroundColor: dredgeColor, borderWidth: 0, barThickness: 1, grouped: false, order: 150, clip: 0 as any,
          },
          ...(lineSets as any[]),
        ],
      },
      options: {
        responsive: false,
        animation: false,
        devicePixelRatio: 1,
        layout: { padding: { left: 10, top: 63, right: 122, bottom: 7 } },
        plugins: { legend: { display: false }, title: { display: false }, tooltip: { enabled: false } },
        scales: {
          x: {
            type: 'linear', min: xMin, max: xMax, offset: false, bounds: 'data',
            afterBuildTicks: (s: any) => { s.ticks = tickValues.map((v) => ({ value: v })); },
            afterFit: (s: any) => { s.height = 80; },
            grid: { drawOnChartArea: false, drawTicks: true, tickLength: 5, color: '#000' },
            border: { color: '#000', width: 1 },
            ticks: {
              autoSkip: false, maxRotation: 45, minRotation: 45, padding: 1, color: '#111',
              font: { family: FONT, size: 13.5 },
              callback: (v: any) => fmtDay(Number(v)),
            },
          },
          y: {
            position: 'left', min: 3, max: 10,
            afterFit: (s: any) => { s.width = 77; },
            ticks: {
              stepSize: 0.5, padding: 7, color: '#111', font: { family: FONT, size: 14 },
              callback: (v: any) => String(Math.round(Number(v) * 10) / 10),
            },
            grid: { color: '#3a3a3a', lineWidth: 1, drawTicks: true, tickLength: 5 },
            border: { color: '#555', width: 1 },
          },
          y1: {
            position: 'right', min: 0, max: 210,
            afterFit: (s: any) => { s.width = 62; },
            ticks: { stepSize: 30, padding: 6, color: '#111', font: { family: FONT, size: 14 } },
            grid: { drawOnChartArea: false, drawTicks: true, tickLength: 5, color: '#555' },
            border: { color: '#777', width: 1 },
          },
        },
      } as any,
      plugins: [bgPlugin, overlayPlugin],
    });
    return () => chart.destroy();
  }, []);

  return (
    <div style={{ position: 'relative', width: 1261, height: 675, background: '#fff', overflow: 'hidden' }}>
      <div style={{ position: 'absolute', left: 4, top: 5, width: 1400, height: 800, borderLeft: '1px solid #000', borderTop: '1px solid #000' }} />
      <canvas ref={ref} width={1261} height={675} style={{ position: 'absolute', left: 0, top: 0 }} />
    </div>
  );
}
